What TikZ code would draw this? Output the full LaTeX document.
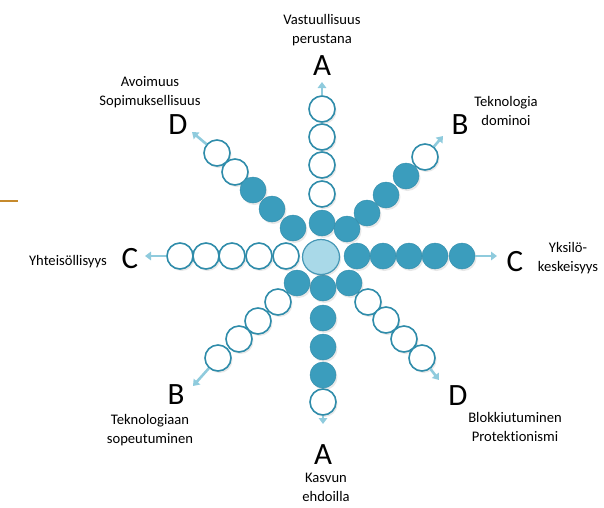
\documentclass[tikz,border=0pt]{standalone}
\usepackage{fontspec}
\setmainfont{Carlito}[Ligatures={NoCommon}]
\usetikzlibrary{arrows.meta,shadows,shapes.geometric}
\definecolor{tealf}{HTML}{3B9DBD}
\definecolor{rim}{HTML}{2F8CAA}
\definecolor{hubf}{HTML}{A9D9E8}
\definecolor{hubd}{HTML}{4597B5}
\definecolor{arr}{HTML}{8FCBDD}
\definecolor{orng}{HTML}{C68A2C}
\tikzset{
  bead/.style={circle,minimum size=26pt,inner sep=0pt,line width=1.6pt,
    drop shadow={opacity=0.18,shadow xshift=1.5pt,shadow yshift=-2pt}},
  wbead/.style={bead,draw=rim,fill=white},
  fbead/.style={bead,draw=tealf!92!black,line width=0.5pt,fill=tealf},
  hub/.style={ellipse,minimum width=37pt,minimum height=35pt,inner sep=0pt,
    draw=hubd,line width=1.2pt,fill=hubf,
    drop shadow={opacity=0.18,shadow xshift=1.5pt,shadow yshift=-2pt}},
  pointer/.style={draw=arr,line width=2.6pt,-{Triangle[length=6pt,width=8.5pt]}},
  big/.style={font=\fontsize{31}{31}\selectfont,inner sep=0pt},
  lbl/.style={font=\fontsize{14.6}{19}\selectfont,align=center,inner sep=0pt}
}
\begin{document}
\begin{tikzpicture}[x=1pt,y=-1pt]
\useasboundingbox (0,0) rectangle (604,507);
\draw[orng,line width=2pt] (0,201) coordinate (o1) -- (18,201) coordinate (o2);
% up arm
\node[wbead] (u1) at (322,109) {};
\node[wbead] (u2) at (322,137) {};
\node[wbead] (u3) at (322,165) {};
\node[wbead] (u4) at (322,194) {};
\node[fbead] (u5) at (322,223) {};
% down arm
\node[fbead] (d5) at (323,288) {};
\node[fbead] (d4) at (323,318) {};
\node[fbead] (d3) at (323,347) {};
\node[fbead] (d2) at (323,375) {};
\node[wbead] (d1) at (323,402) {};
% left arm
\node[wbead] (l1) at (180,256) {};
\node[wbead] (l2) at (206,256) {};
\node[wbead] (l3) at (232,256) {};
\node[wbead] (l4) at (259,256) {};
\node[wbead] (l5) at (286,256) {};
% right arm
\node[fbead] (r5) at (357,256) {};
\node[fbead] (r4) at (383,256) {};
\node[fbead] (r3) at (409,256) {};
\node[fbead] (r2) at (435,256) {};
\node[fbead] (r1) at (462,256) {};
% NW arm
\node[wbead] (nw1) at (217,153) {};
\node[wbead] (nw2) at (235,172) {};
\node[fbead] (nw3) at (253,190) {};
\node[fbead] (nw4) at (272,209) {};
\node[fbead] (nw5) at (293,228) {};
% NE arm
\node[wbead] (ne1) at (425,157) {};
\node[fbead] (ne2) at (406,176) {};
\node[fbead] (ne3) at (386,195) {};
\node[fbead] (ne4) at (367,213) {};
\node[fbead] (ne5) at (347,229) {};
% SW arm
\node[fbead] (sw5) at (297,283) {};
\node[wbead] (sw4) at (278,302) {};
\node[wbead] (sw3) at (258,321) {};
\node[wbead] (sw2) at (239,339) {};
\node[wbead] (sw1) at (218,358) {};
% SE arm
\node[fbead] (se5) at (349,283) {};
\node[wbead] (se4) at (368,302) {};
\node[wbead] (se3) at (386,320) {};
\node[wbead] (se2) at (404,339) {};
\node[wbead] (se1) at (422,358) {};
% hub
\node[hub] (hub) at (321,257) {};
% arrow tips
\coordinate (tu) at (322,82);
\coordinate (td) at (323,424);
\coordinate (tl) at (145,256);
\coordinate (tr) at (497,256);
\coordinate (tnw) at (192,132);
\coordinate (tne) at (443,136);
\coordinate (tsw) at (193,386);
\coordinate (tse) at (439,380);
\draw[pointer] (u1) -- (tu);
\draw[pointer] (d1) -- (td);
\draw[pointer] (l1) -- (tl);
\draw[pointer] (r1) -- (tr);
\draw[pointer] (nw1) -- (tnw);
\draw[pointer] (ne1) -- (tne);
\draw[pointer] (sw1) -- (tsw);
\draw[pointer] (se1) -- (tse);
% letters
\node[big] (la) at (322,66) {A};
\node[big] (lb) at (323,455) {A};
\node[big] (lc) at (130,259) {C};
\node[big] (ld) at (515,262) {C};
\node[big] (le) at (178,125) {D};
\node[big] (lf) at (460,125) {B};
\node[big] (lg) at (176,395) {B};
\node[big] (lh) at (458,396) {D};
% texts
\node[lbl] (ta) at (322,30) {Vastuullisuus\\perustana};
\node[lbl] (tb) at (326,487) {Kasvun\\ehdoilla};
\node[lbl] (tc) at (68,262) {Yhteisöllisyys};
\node[lbl] (td2) at (568,258) {Yksilö-\\keskeisyys};
\node[lbl] (te) at (150,92) {Avoimuus\\Sopimuksellisuus};
\node[lbl] (tf) at (506,111) {Teknologia\\dominoi};
\node[lbl] (tg) at (150,430) {Teknologiaan\\sopeutuminen};
\node[lbl] (th) at (515,427) {Blokkiutuminen\\Protektionismi};
\end{tikzpicture}
\end{document}
